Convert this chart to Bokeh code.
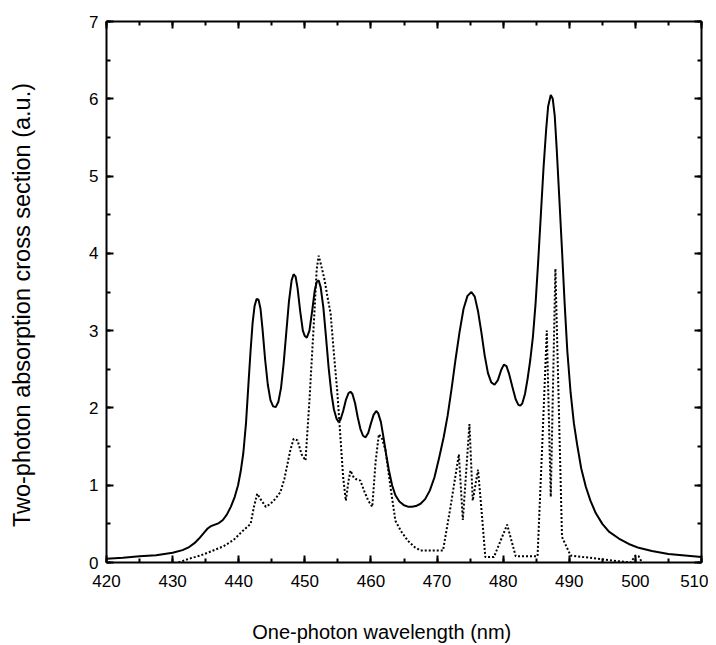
from bokeh.plotting import figure
from bokeh.models import Range1d, LinearAxis, SingleIntervalTicker
from bokeh.embed import file_html
from bokeh.resources import INLINE

# Solid curve: two-photon absorption cross section
solid_wl = [420.0, 422.5, 425.0, 427.5, 430.0, 431.5, 432.5, 433.3, 434.0, 434.7,
            435.3, 435.8, 436.4, 437.0, 437.6, 438.2, 438.8, 439.4, 439.9, 440.3,
            440.7, 441.1, 441.5, 441.8, 442.1, 442.4, 442.7, 443.0, 443.3, 443.6,
            444.0, 444.4, 444.8, 445.2, 445.6, 446.0, 446.4, 446.8, 447.2, 447.6,
            448.0, 448.3, 448.6, 448.9, 449.3, 449.7, 450.0, 450.3, 450.7, 451.1,
            451.5, 451.8, 452.1, 452.4, 452.8, 453.2, 453.6, 454.0, 454.4, 454.8,
            455.1, 455.4, 455.8, 456.2, 456.6, 456.9, 457.2, 457.6, 458.0, 458.4,
            458.8, 459.2, 459.6, 460.0, 460.4, 460.8, 461.1, 461.5, 461.9, 462.3,
            462.7, 463.2, 463.7, 464.3, 465.0, 465.7, 466.2, 466.8, 467.5, 468.2,
            468.9, 469.6, 470.3, 471.0, 471.6, 472.2, 472.8, 473.4, 474.0, 474.6,
            475.2, 475.7, 476.2, 476.7, 477.2, 477.7, 478.2, 478.7, 479.2, 479.7,
            480.1, 480.5, 480.9, 481.4, 481.9, 482.3, 482.6, 482.9, 483.3, 483.7,
            484.1, 484.5, 484.9, 485.3, 485.7, 486.1, 486.5, 486.8, 487.2, 487.5,
            487.8, 488.1, 488.5, 488.9, 489.3, 489.7, 490.2, 490.7, 491.2, 491.8,
            492.5, 493.2, 494.0, 495.0, 496.0, 497.5, 499.0, 500.5, 502.5, 505.0,
            507.5, 510.0]
solid_val = [0.05, 0.06, 0.08, 0.095, 0.125, 0.16, 0.20, 0.25, 0.31, 0.38,
             0.44, 0.47, 0.49, 0.51, 0.55, 0.62, 0.72, 0.85, 1.00, 1.18,
             1.42, 1.80, 2.35, 2.75, 3.10, 3.32, 3.41, 3.40, 3.28, 3.02,
             2.62, 2.30, 2.10, 2.02, 2.01, 2.08, 2.26, 2.58, 2.98, 3.38,
             3.65, 3.73, 3.70, 3.55, 3.25, 3.00, 2.93, 2.91, 3.00, 3.25,
             3.52, 3.63, 3.65, 3.56, 3.30, 2.92, 2.52, 2.20, 1.98, 1.86,
             1.82, 1.85, 1.96, 2.10, 2.19, 2.21, 2.18, 2.06, 1.88, 1.73,
             1.64, 1.62, 1.68, 1.80, 1.91, 1.96, 1.93, 1.82, 1.62, 1.40,
             1.20, 1.00, 0.87, 0.79, 0.74, 0.72, 0.72, 0.73, 0.76, 0.82,
             0.93, 1.10, 1.35, 1.62, 1.90, 2.25, 2.63, 2.98, 3.28, 3.45,
             3.50, 3.44, 3.25, 2.98, 2.68, 2.45, 2.33, 2.30, 2.36, 2.49,
             2.56, 2.54, 2.44, 2.27, 2.11, 2.04, 2.03, 2.06, 2.18, 2.38,
             2.62, 2.92, 3.35, 3.90, 4.50, 5.10, 5.60, 5.90, 6.05, 6.00,
             5.78, 5.35, 4.70, 4.04, 3.35, 2.74, 2.20, 1.80, 1.52, 1.22,
             0.98, 0.80, 0.64, 0.50, 0.40, 0.31, 0.24, 0.19, 0.15, 0.11,
             0.09, 0.07]

# Dotted curve
dot_wl = [430.9, 432.5, 434.2, 436.0, 437.7, 439.2, 440.5, 441.8, 442.3, 442.8,
          443.3, 444.1, 444.8, 445.5, 446.3, 446.9, 447.8, 448.3, 448.9, 449.5,
          450.1, 450.7, 451.3, 451.8, 452.1, 452.6, 453.0, 453.4, 453.9, 454.4,
          454.9, 455.4, 455.8, 456.2, 456.6, 456.9, 457.4, 457.7, 458.4, 459.0,
          459.6, 460.2, 460.7, 461.2, 461.7, 462.2, 463.0, 463.7, 464.6, 465.6,
          466.6, 467.5, 470.9, 472.0, 473.3, 473.9, 474.9, 475.4, 476.2, 476.8,
          477.3, 478.6, 479.6, 480.6, 481.2, 481.9, 485.2, 485.9, 486.6, 487.2,
          487.9, 488.9, 490.2, 494.2, 496.0, 499.3, 500.0, 500.5, 501.0]
dot_val = [0.00, 0.05, 0.09, 0.15, 0.21, 0.29, 0.40, 0.50, 0.72, 0.89,
           0.82, 0.72, 0.76, 0.82, 0.91, 1.08, 1.45, 1.60, 1.58, 1.40,
           1.32, 2.10, 3.00, 3.80, 3.97, 3.80, 3.65, 3.45, 3.22, 2.70,
           2.22, 1.60, 1.10, 0.80, 1.05, 1.19, 1.10, 1.08, 1.06, 0.92,
           0.80, 0.72, 1.30, 1.66, 1.60, 1.45, 0.95, 0.54, 0.40, 0.28,
           0.20, 0.155, 0.155, 0.70, 1.40, 0.55, 1.79, 0.80, 1.20, 0.60,
           0.07, 0.07, 0.28, 0.49, 0.30, 0.08, 0.08, 1.50, 3.00, 0.85,
           3.80, 0.33, 0.09, 0.05, 0.03, 0.00, 0.09, 0.08, 0.00]

x_label = "One-photon wavelength (nm)"
y_label = "Two-photon absorption cross section (a.u.)"

FONT = "Liberation Sans"
NBSP = "\u00a0"

p = figure(width=708, height=645, x_range=Range1d(420, 510), y_range=Range1d(0, 7),
           output_backend="svg", toolbar_location=None,
           min_border_left=106, min_border_right=7, min_border_top=21, min_border_bottom=83)
p.xgrid.visible = False
p.ygrid.visible = False
p.outline_line_color = None
p.background_fill_color = "white"
p.border_fill_color = "white"

p.line(solid_wl, solid_val, line_color="black", line_width=2)
p.line(dot_wl, dot_val, line_color="black", line_width=2, line_dash="2 2")

def style_axis(ax, show_labels):
    ax.axis_line_color = "black"
    ax.axis_line_width = 2
    ax.major_tick_line_color = "black"
    ax.major_tick_line_width = 2
    ax.minor_tick_line_color = "black"
    ax.minor_tick_line_width = 2
    ax.major_tick_in = 7
    ax.major_tick_out = 0
    ax.minor_tick_in = 4
    ax.minor_tick_out = 0
    if show_labels:
        ax.major_label_text_font = FONT
        ax.major_label_text_font_size = "17px"
        ax.major_label_text_color = "black"
    else:
        ax.major_label_text_font_size = "0px"
        ax.major_label_text_color = None
        ax.major_label_standoff = 0

xa = p.xaxis[0]
xa.ticker = SingleIntervalTicker(interval=10, num_minor_ticks=2)
style_axis(xa, True)
xa.major_label_standoff = 12
# trailing no-break spaces shift the centred title left, as in the original
xa.axis_label = x_label + NBSP * 8
xa.axis_label_text_font = FONT
xa.axis_label_text_font_size = "20px"
xa.axis_label_text_font_style = "normal"
xa.axis_label_text_color = "black"
xa.axis_label_standoff = 31

ya = p.yaxis[0]
ya.ticker = SingleIntervalTicker(interval=1, num_minor_ticks=2)
style_axis(ya, True)
ya.major_label_standoff = 8
ya.axis_label = y_label + NBSP * 4
ya.axis_label_text_font = FONT
ya.axis_label_text_font_size = "23.5px"
ya.axis_label_text_font_style = "normal"
ya.axis_label_text_color = "black"
ya.axis_label_standoff = 51

top = LinearAxis(ticker=SingleIntervalTicker(interval=10, num_minor_ticks=2))
style_axis(top, False)
p.add_layout(top, "above")
right = LinearAxis(ticker=SingleIntervalTicker(interval=1, num_minor_ticks=2))
style_axis(right, False)
p.add_layout(right, "right")

open("out.html", "w").write(file_html(p, INLINE))
